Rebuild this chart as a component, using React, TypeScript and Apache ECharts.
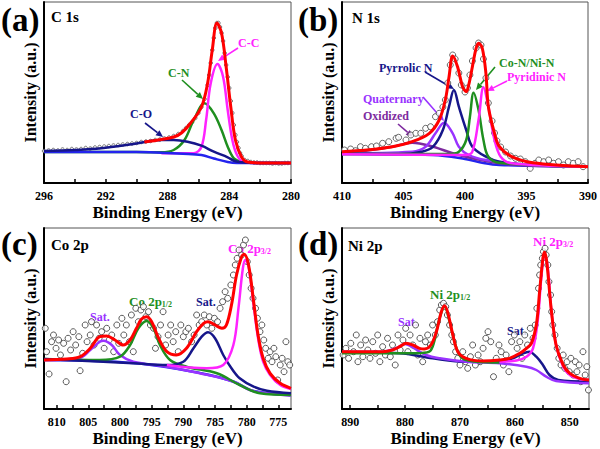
import React, { useEffect, useRef } from 'react';
import * as echarts from 'echarts';

const FONT = 'Liberation Serif, serif';
const RED = '#ff0000', MAG = '#ff22ff', GRN = '#1f8f1f', NAVY = '#16168a', BLUE = '#2424ee', VIO = '#9933ff', PUR = '#7d2a9e';

// ---------- (a) C 1s ----------
const aTicks = [280, 282, 284, 286, 288, 290, 292, 294, 296];
const aLabels = [280, 284, 288, 292, 296];
const aScatter = [[296,32],[295.7,32.5],[295.4,33],[295.1,32.5],[294.8,33.5],[294.5,33],[294.2,34],[293.9,33.5],[293.6,34],[293.3,35],[293,34.5],[292.7,35.5],[292.4,36],[292.1,36.5],[291.8,37],[291.5,37.5],[291.2,38],[290.9,38.5],[290.6,39],[290.3,39.5],[290,40],[289.7,41],[289.4,41.5],[289.1,42],[288.8,43],[288.5,43.5],[288.2,44.5],[287.9,45.5],[287.6,47],[287.3,49],[287,52],[286.8,55],[286.6,58],[286.4,61],[286.2,65],[286,70],[285.8,76],[285.6,84],[285.4,98],[285.3,108],[285.2,120],[285.1,133],[285,145],[284.9,155],[284.8,160],[284.7,160],[284.6,156],[284.5,150],[284.4,142],[284.3,130],[284.2,118],[284.1,106],[284,95],[283.9,82],[283.8,70],[283.7,58],[283.6,48],[283.5,41],[283.4,35],[283.3,30],[283.2,27],[283,23],[282.8,22],[282.6,21],[282.4,20.5],[282.2,20.5],[282,20],[281.8,20],[281.6,20],[281.4,20],[281.2,19.5],[281,20],[280.8,19.5],[280.6,19.5],[280.4,20],[280.2,20]];
const aEnvelope = [[289.5,41],[288.4,43.5],[287.6,46],[287.1,50],[286.5,60],[285.8,76],[285.4,100],[285.1,133],[284.8,160],[284.5,150],[284.2,116],[283.9,76],[283.6,43],[283.2,26],[282.8,21],[281.5,20],[280,20]];
const aCO = [[296,32],[294,33],[292.3,34.7],[290.2,39],[288.4,43],[287.6,43],[286.7,41.3],[285.8,37.3],[285,31.3],[284.1,25.7],[283.7,22.3],[283.2,20.7],[282,20],[280,20]];
const aCN = [[296,31],[290,31],[288.4,30.7],[287.6,33],[286.9,43],[286.3,63],[285.6,79.7],[285,69.7],[284.5,53],[284.1,36.3],[283.7,24.7],[283.2,21.3],[282,20],[280,20]];
const aCC = [[288.4,29.7],[286.3,29.7],[285.8,36.3],[285.5,63],[285.2,99.7],[284.76,119],[284.4,106.3],[284.1,73],[283.8,43],[283.5,28],[283.1,21.3],[282,20],[280,20]];
const aBg = [[296,31],[290,31],[288.4,30.3],[287,29.3],[285.8,28],[285,24.5],[284.1,21],[283.5,20],[280,20]];

// ---------- (b) N 1s ----------
const bTicks = [390, 392.5, 395, 397.5, 400, 402.5, 405, 407.5, 410];
const bLabels = [390, 395, 400, 405, 410];
const bScatter = [[409.8,33],[409.3,34],[408.9,32.3],[408.5,36.3],[408.1,34.7],[407.6,36.3],[407.2,37],[406.7,39.7],[406.2,41.3],[405.6,44.7],[405.4,45.7],[404.8,43],[404.4,48],[404,49.7],[403.6,49.7],[403.2,54.7],[402.8,56.3],[402.4,66.3],[402.1,69.7],[401.8,76],[401.6,83],[401.4,100],[401.2,118],[401,128],[400.8,124],[400.5,110],[400.3,98],[400,91],[399.8,95],[399.6,108],[399.4,122],[399.1,135],[398.9,140],[398.7,138],[398.5,124],[398.3,105],[398.1,80],[397.8,62],[397.6,50],[397.4,42],[397.1,36],[396.7,31],[396.3,27],[395.9,24.7],[395.5,24],[395.1,21.3],[394.7,14.7],[394.3,19.7],[394,23],[393.6,21.3],[393.2,23],[392.8,19.7],[392.4,21.3],[392,18],[391.6,21.3],[391.2,19.7],[390.8,21.3],[390.4,16.3]];
const bEnvelope = [[410,31.3],[408,33],[405.9,36.3],[404.3,41.3],[402.9,49.7],[402.1,63],[401.6,83],[401.3,106],[401,127],[400.6,116],[400.2,96.3],[399.9,91.3],[399.7,98],[399.4,116.3],[399.1,134.7],[398.9,139.7],[398.6,135],[398.3,109.7],[398.1,76.3],[397.6,49.7],[397.2,36.3],[396.2,26.3],[394.5,20.3],[390,16.3]];
const bPyrrolic = [[410,29.7],[405.4,28.7],[403.5,31.3],[402.6,36.3],[401.8,53],[401.3,76.3],[400.9,93],[400.5,76.3],[399.9,53],[399.4,36.3],[398.3,26.3],[397.2,21.3],[394.5,18],[390,16.3]];
const bQuaternary = [[410,29.7],[404.3,31.3],[403.2,36.3],[402.4,49.7],[401.7,60.3],[401,49.7],[400.5,36.3],[399.7,28],[398.3,23],[394.5,18],[390,16.3]];
const bOxidized = [[410,30.3],[408.1,32.3],[405.9,36.3],[404.3,40.3],[402.6,36.3],[401,29.7],[399.4,24.7],[397.2,19.7],[394.5,17.3],[390,16.3]];
const bCoN = [[410,29],[401.3,29],[400.5,31.3],[399.9,43],[399.6,66.3],[399.3,90.3],[398.9,73],[398.5,43],[398.1,26.3],[397.2,20.3],[390,16.3]];
const bPyridinic = [[410,28.7],[399.9,28],[399.4,31.3],[398.9,63],[398.5,95.7],[398.1,76.3],[397.6,43],[397.1,26.3],[396.2,19.7],[390,16.3]];
const bBg = [[410,29],[402.6,28],[400,24],[398.5,20],[397.2,18],[390,16.3]];

// ---------- (c) Co 2p ----------
const cTicks = [775, 777.5, 780, 782.5, 785, 787.5, 790, 792.5, 795, 797.5, 800, 802.5, 805, 807.5, 810];
const cLabels = [775, 780, 785, 790, 795, 800, 805, 810];
const cScatter = [[811.8,80.7],[811.6,57.3],[811.2,35],[810.8,67.3],[810.5,74],[810.1,60.7],[809.7,69],[809.4,54],[808.9,65.7],[808.5,27.3],[808.2,70.7],[807.8,59],[807.4,77.3],[807,64],[806.5,72.3],[806.3,38.3],[805.9,55.7],[805.5,84],[805.2,67.3],[804.7,74],[804.5,87.3],[804.1,64],[803.7,84],[803.3,70.7],[802.9,77.3],[802.5,60.7],[802.1,80.7],[801.7,69],[801.3,74],[801,57.3],[800.5,84],[800.2,65.7],[799.7,90.7],[799.4,74],[799,84],[798.5,67.3],[798.2,94],[797.9,57.3],[797.5,100.7],[797.1,87.3],[796.7,99],[796.3,102.3],[795.9,92.3],[795.5,97.3],[795.2,84],[794.7,80.7],[794.4,60.7],[794,72.3],[793.6,84],[793.2,97.3],[792.8,64],[792.4,74],[792,84],[791.6,67.3],[791.2,77.3],[790.8,57.3],[790.4,84],[790,72.3],[789.6,77.3],[789.2,80.7],[788.7,67.3],[788.3,74],[787.9,94],[787.5,84],[787.1,87.3],[786.7,94],[786.3,84],[785.9,92.3],[785.5,80.7],[785.1,90.7],[784.6,87.3],[784.2,100.7],[783.8,107.3],[783.4,117.3],[783,110.7],[782.5,124],[782.1,134],[781.8,144],[781.5,150.7],[781.2,159],[780.8,154],[780.5,164],[780.2,169],[779.9,147.3],[779.6,134],[779.3,120.7],[779,110.7],[778.6,100.7],[778.3,90.7],[777.9,77.3],[777.6,84],[777.3,69],[777,60.7],[776.6,50.7],[776.3,57.3],[776,47.3],[775.7,60.7],[775.4,52.3],[775.1,29],[774.7,44],[774.4,50.7],[774.1,37.3],[773.8,67.3],[773.5,47.3],[773.2,44]];
const cEnvelope = [[812,49],[808.4,50],[806.3,52.3],[804.7,60.7],[803.2,72.3],[802.1,73],[800.8,69],[799.5,64],[798.4,69],[797.4,80.7],[796.6,90],[795.8,92.3],[795,87.3],[793.9,70.7],[792.6,57.3],[791.1,54],[789.5,60.7],[787.9,77.3],[786.8,85.7],[786.1,87.3],[785,84],[783.9,80.7],[783.2,84],[782.4,104],[781.6,134],[780.8,152.3],[780.4,154.7],[779.7,144],[778.9,107.3],[778.2,74],[777.4,50.7],[776.3,35.7],[774.7,25.7],[773,20.7]];
const cCo32 = [[792.6,44],[786.3,40.7],[783.7,44],[782.1,64],[781.3,100.7],[780.6,140.7],[780.2,149],[779.7,142.3],[778.9,104],[778.2,70.7],[777.4,47.3],[776.3,34],[774.7,24],[773,20]];
const cSat786 = [[812,50],[797.9,45.7],[792.6,44],[790,47.3],[788.4,60.7],[787.1,72.3],[786.1,76.7],[785,70.7],[783.7,54],[782.4,40.7],[781.1,30.7],[778.9,22.3],[776.8,18.3],[773,15.7]];
const cCo12 = [[812,50],[803.2,49],[800,52.3],[798.4,64],[797.1,80.7],[795.8,88],[794.7,80.7],[793.7,64],[792.1,49],[789.5,42.3],[784.7,35.7],[781.1,24],[777.9,15.7],[773,14]];
const cSat802 = [[812,49],[806.3,51.3],[804.7,59],[803.2,67.3],[802.6,68.3],[801.3,64],[800,54],[797.9,47.3],[792.6,42.3],[787.4,35.7],[782.1,27.3],[779.5,19],[776.8,15.7],[773,13.3]];
const cBg = [[812,49],[797.9,46],[787.4,36],[782.1,27.5],[778.9,18],[773,14]];

// ---------- (d) Ni 2p ----------
const dTicks = [850, 855, 860, 865, 870, 875, 880, 885, 890];
const dLabels = [850, 860, 870, 880, 890];
const dScatter = [[891.3,54],[890.8,60.7],[890.3,50.7],[889.9,65.7],[889.4,57.3],[888.9,74],[888.6,47.3],[888.1,64],[887.7,52.3],[887.2,69],[886.8,59],[886.4,50.7],[885.9,67.3],[885.4,55.7],[885,74],[884.6,47.3],[884.1,62.3],[883.6,54],[883.2,70.7],[882.7,52.3],[882.3,64],[881.8,44],[881.3,74],[880.9,59],[880.4,69],[879.9,80.7],[879.5,57.3],[879.1,74],[878.6,64],[878.1,84],[877.7,54],[877.3,70.7],[876.8,47.3],[876.3,67.3],[875.9,74],[875.4,64],[875,84],[874.5,74],[874.1,87.3],[873.7,99],[873.4,104],[873,105.7],[872.6,102.3],[872.3,94],[871.9,84],[871.5,74],[871.2,67.3],[870.8,57.3],[870.4,50.7],[870,44],[869.5,57.3],[869,47.3],[868.6,40.7],[868.1,52.3],[867.7,64],[867.2,44],[866.7,54],[866.3,47.3],[865.8,60.7],[865.3,70.7],[864.9,77.3],[864.4,67.3],[863.9,32.3],[863.4,50.7],[862.9,64],[862.5,57.3],[862.1,44],[861.6,54],[861.1,37.3],[860.6,67.3],[860.1,74],[859.6,60.7],[859.1,67.3],[858.7,50.7],[858.2,74],[857.7,64],[857.2,80.7],[856.7,70.7],[856.3,84],[856,100.7],[855.7,120.7],[855.5,134],[855.3,144],[855,150.7],[854.8,157.3],[854.5,160.7],[854.3,154],[854,144],[853.8,127.3],[853.5,114],[853.3,97.3],[853.1,84],[852.7,74],[852.3,60.7],[852,50.7],[851.6,44],[851.2,54],[850.9,40.7],[850.5,47.3],[850.1,37.3],[849.8,50.7],[849.4,34],[849,47.3],[848.7,37.3],[848.3,44],[848,27.3],[847.6,57.3],[847.2,34],[846.9,42.3],[846.6,19]];
const dEnvelope = [[891.5,57.3],[884.1,57.3],[882.3,59],[881,62.3],[879.8,65.7],[878.6,64],[877.4,60.7],[876.5,60],[875.3,64],[874.3,77.3],[873.4,97.3],[872.8,103.3],[872.2,95.7],[871.3,74],[870.4,57.3],[868.9,50.7],[865.8,48],[862.8,49],[861,50.7],[859.1,55.7],[857.9,60.7],[857,65.7],[856.1,84],[855.5,117.3],[854.9,150.7],[854.6,156.7],[854.2,147.3],[853.4,100.7],[852.5,64],[851.2,44],[850,35.7],[848.2,30.7],[846.5,29]];
const dNi32 = [[862.8,47.3],[859.7,48.5],[857.9,52.3],[856.7,60.7],[855.8,90.7],[855.2,130.7],[854.6,154],[854,140.7],[853.4,100.7],[852.5,64],[851.2,42.3],[850,34],[848.2,30],[846.5,29]];
const dSat857 = [[891.5,56.7],[881,55.7],[875,50.7],[868.9,47.3],[862.8,47.3],[860.4,50.7],[858.5,55.7],[857.4,57.3],[856.1,52.3],[854.9,44],[853.7,34],[852.1,29],[846.5,27.3]];
const dNi12 = [[891.5,55.7],[878,55.7],[875.6,57.3],[874.7,67.3],[873.9,87.3],[872.8,102.3],[871.9,87.3],[871,67.3],[870.1,54],[868.9,49],[865.2,46.7],[862.8,46.5]];
const dSat879 = [[891.5,57.3],[884.1,57.3],[881.7,60.7],[880,65],[878.3,60.7],[876.2,54],[873.7,50.7],[868.9,47.3],[862.8,45.7],[857.9,42.3],[856.1,39],[854.3,32.3],[852.5,28],[846.5,25.7]];

const grids = [
  { left: 44, top: 2, width: 247, height: 181 },
  { left: 342, top: 2, width: 248, height: 181 },
  { left: 44, top: 228, width: 247, height: 181 },
  { left: 342, top: 228, width: 247, height: 181 },
];

function makeX(gridIndex: number, min: number, max: number, ticks: number[], labels: number[]) {
  return {
    type: 'value', gridIndex, min, max, inverse: true,
    name: 'Binding Energy (eV)', nameLocation: 'middle', nameGap: 21,
    nameTextStyle: { fontFamily: FONT, fontWeight: 'bold', fontSize: 17, color: '#000' },
    axisLine: { show: true, onZero: false, lineStyle: { color: '#000', width: 2 } },
    axisTick: { show: true, inside: true, length: 4, customValues: ticks, lineStyle: { color: '#000', width: 1.5 } },
    axisLabel: { customValues: labels, fontFamily: FONT, fontWeight: 'bold', fontSize: 12, color: '#000', margin: 7 },
    splitLine: { show: false },
  };
}
function makeY(gridIndex: number) {
  return {
    type: 'value', gridIndex, min: 0, max: 181,
    name: 'Intensity (a.u.)', nameLocation: 'middle', nameGap: 6, nameRotate: 90,
    nameTextStyle: { fontFamily: FONT, fontWeight: 'bold', fontSize: 16, color: '#000' },
    axisLine: { show: true, onZero: false, lineStyle: { color: '#000', width: 2 } },
    axisTick: { show: false }, axisLabel: { show: false }, splitLine: { show: false },
  };
}
function scat(i: number, data: number[][], size: number, stroke: string) {
  return { type: 'scatter', xAxisIndex: i, yAxisIndex: i, data, symbol: 'circle', symbolSize: size, silent: true, z: 1,
    itemStyle: { color: '#fff', borderColor: stroke, borderWidth: 1 } };
}
function ln(i: number, data: number[][], color: string, width: number, z = 2) {
  return { type: 'line', xAxisIndex: i, yAxisIndex: i, data, smooth: 0.35, showSymbol: false, symbol: 'none', silent: true, z,
    lineStyle: { color, width, join: 'round' } };
}
function txt(text: string, x: number, cy: number, color: string, size: number) {
  return { type: 'text', x, y: cy, silent: true, style: { text, fill: color, fontSize: size, fontWeight: 'bold', fontFamily: FONT, textAlign: 'left', textVerticalAlign: 'middle' } };
}
function subTxt(main: string, sub: string, x: number, cy: number, color: string) {
  return { type: 'text', x, y: cy, silent: true, style: {
    text: `{m|${main}}{s|${sub}}`, textAlign: 'left', textVerticalAlign: 'middle',
    rich: {
      m: { fontSize: 13, fontWeight: 'bold', fontFamily: FONT, fill: color, lineHeight: 15 },
      s: { fontSize: 8, fontWeight: 'bold', fontFamily: FONT, fill: color, lineHeight: 15, verticalAlign: 'bottom' },
    } } };
}
function arrow(x1: number, y1: number, x2: number, y2: number, color: string) {
  const ang = Math.atan2(y2 - y1, x2 - x1), L = 7, W = 3.2;
  const bx = x2 - L * Math.cos(ang), by = y2 - L * Math.sin(ang);
  const px = -Math.sin(ang) * W, py = Math.cos(ang) * W;
  return [
    { type: 'line', silent: true, shape: { x1, y1, x2: bx, y2: by }, style: { stroke: color, lineWidth: 1.6 } },
    { type: 'polygon', silent: true, shape: { points: [[x2, y2], [bx + px, by + py], [bx - px, by - py]] }, style: { fill: color } },
  ];
}

export default function App() {
  const ref = useRef<HTMLDivElement>(null);
  useEffect(() => {
    if (!ref.current) return;
    const chart = echarts.init(ref.current, null, { renderer: 'svg' });
    const graphic: any[] = [
      txt('(a)', 1, 20, '#000', 33), txt('(b)', 298, 20, '#000', 33),
      txt('(c)', 1, 244, '#000', 33), txt('(d)', 298, 244, '#000', 33),
      txt('C 1s', 51, 17, '#000', 15), txt('N 1s', 352, 18, '#000', 15),
      txt('Co 2p', 51, 245, '#000', 15), txt('Ni 2p', 348, 246, '#000', 15),
      txt('C-O', 130, 114, NAVY, 12), ...arrow(145, 123, 163, 137, NAVY),
      txt('C-N', 168, 73, GRN, 12), ...arrow(182, 80, 203, 99, GRN),
      txt('C-C', 238, 43, MAG, 12), ...arrow(238, 48, 218, 61, MAG),
      txt('Pyrrolic N', 379, 68, NAVY, 12), ...arrow(425, 72, 454, 89, NAVY),
      txt('Quaternary', 363, 99, VIO, 12), ...arrow(423, 97, 444, 121, VIO),
      txt('Oxidized', 363, 116, PUR, 12), ...arrow(398, 124, 413, 137, PUR),
      txt('Co-N/Ni-N', 499, 63, GRN, 12), ...arrow(495, 67, 476, 90, GRN),
      txt('Pyridinic N', 507, 77, MAG, 12), ...arrow(507, 81, 487, 91, MAG),
      subTxt('Co 2p', '3/2', 228, 248, MAG), subTxt('Co 2p', '1/2', 129, 301, GRN),
      txt('Sat.', 196, 302, NAVY, 12), txt('Sat.', 90, 317, VIO, 12),
      subTxt('Ni 2p', '3/2', 533, 241, MAG), subTxt('Ni 2p', '1/2', 430, 294, GRN),
      txt('Sat.', 398, 322, VIO, 12), txt('Sat.', 507, 331, NAVY, 12),
    ];
    chart.setOption({
      animation: false,
      textStyle: { fontFamily: FONT },
      grid: grids.map(g => ({ ...g, show: true, borderColor: '#555', borderWidth: 1, containLabel: false })),
      xAxis: [makeX(0, 280, 296, aTicks, aLabels), makeX(1, 390, 410, bTicks, bLabels), makeX(2, 773, 812, cTicks, cLabels), makeX(3, 846.5, 891.5, dTicks, dLabels)],
      yAxis: [makeY(0), makeY(1), makeY(2), makeY(3)],
      series: [
        scat(0, aScatter, 3.5, '#555'),
        ln(0, aCN, GRN, 2.5), ln(0, aCC, MAG, 2.5), ln(0, aBg, BLUE, 2.5), ln(0, aCO, NAVY, 2.5), ln(0, aEnvelope, RED, 3, 3),
        scat(1, bScatter, 6, '#444'),
        ln(1, bBg, BLUE, 2.5), ln(1, bOxidized, PUR, 2.5), ln(1, bQuaternary, VIO, 2.5), ln(1, bPyrrolic, NAVY, 2.5),
        ln(1, bCoN, GRN, 2.5), ln(1, bPyridinic, MAG, 2.5), ln(1, bEnvelope, RED, 3, 3),
        scat(2, cScatter, 6, '#333'),
        ln(2, cBg, BLUE, 2.5), ln(2, cSat802, VIO, 2.5), ln(2, cCo12, GRN, 2.5), ln(2, cSat786, NAVY, 2.5), ln(2, cCo32, MAG, 2.5), ln(2, cEnvelope, RED, 3, 3),
        scat(3, dScatter, 6, '#333'),
        ln(3, dSat857, NAVY, 2.5), ln(3, dSat879, VIO, 2.5), ln(3, dNi12, GRN, 2.5), ln(3, dNi32, MAG, 2.5), ln(3, dEnvelope, RED, 3, 3),
      ],
      graphic,
    } as any);
    return () => chart.dispose();
  }, []);
  return <div ref={ref} style={{ position: 'fixed', left: 0, top: 0, width: 600, height: 449, background: '#fff' }} />;
}
